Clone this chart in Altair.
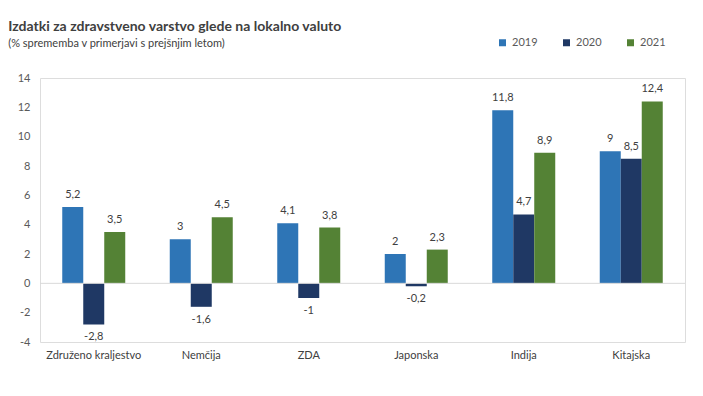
import altair as alt
import pandas as pd

categories = ["Združeno kraljestvo", "Nemčija", "ZDA", "Japonska", "Indija", "Kitajska"]
years = ["2019", "2020", "2021"]
v2019 = [5.2, 3, 4.1, 2, 11.8, 9]
v2020 = [-2.8, -1.6, -1, -0.2, 4.7, 8.5]
v2021 = [3.5, 4.5, 3.8, 2.3, 8.9, 12.4]
colors = ["#2E75B6", "#1F3864", "#548235"]
y_ticks = [-4, -2, 0, 2, 4, 6, 8, 10, 12, 14]

rows = []
for series, yr in zip([v2019, v2020, v2021], years):
    for c, v in zip(categories, series):
        rows.append({"cat": c, "year": yr, "value": v,
                     "label": (f"{v:g}").replace(".", ",")})
df = pd.DataFrame(rows)

FONT = "Lato"
x = alt.X("cat:N", sort=categories, title=None,
          scale=alt.Scale(paddingInner=0.414, paddingOuter=0.207),
          axis=alt.Axis(domain=False, ticks=False, labelAngle=0, labelPadding=7,
                        labelFontSize=11, labelColor="#404040", labelFont=FONT))
xo = alt.XOffset("year:N", sort=years)
y = alt.Y("value:Q", title=None,
          scale=alt.Scale(domain=[-4, 14], nice=False),
          axis=alt.Axis(values=y_ticks, domain=False, ticks=False, grid=False,
                        labelOverlap=False, labelFlush=False,
                        labelExpr="replace(datum.label, '\u2212', '-')",
                        labelPadding=10, labelFontSize=11, labelColor="#595959",
                        labelFont=FONT))

base = alt.Chart(df)
bars = base.mark_bar().encode(
    x=x, xOffset=xo, y=y,
    color=alt.Color("year:N", sort=years,
                    scale=alt.Scale(domain=years, range=colors),
                    legend=alt.Legend(title=None, orient="none", direction="horizontal",
                                      legendX=457, legendY=-41, symbolType="square",
                                      symbolSize=49, symbolStrokeWidth=0,
                                      labelFontSize=11, labelColor="#595959",
                                      labelFont=FONT, columnPadding=23, labelOffset=4,
                                      padding=0)),
)
zero = alt.Chart(pd.DataFrame({"value": [0]})).mark_rule(
    color="#D9D9D9", strokeWidth=1).encode(y=y)

pos = base.transform_filter("datum.value >= 0").mark_text(
    baseline="bottom", dy=-7, fontSize=11, color="#404040", font=FONT
).encode(x=x, xOffset=xo, y=y, text="label:N")
neg = base.transform_filter("datum.value < 0").mark_text(
    baseline="top", dy=7, fontSize=11, color="#404040", font=FONT
).encode(x=x, xOffset=xo, y=y, text="label:N")

chart = alt.layer(bars, zero, pos, neg).properties(
    width=645, height=264,
    autosize=alt.AutoSizeParams(type="none"),
    padding={"left": 32, "top": 70, "right": 10, "bottom": 38},
    title=alt.TitleParams(
        text="Izdatki za zdravstveno varstvo glede na lokalno valuto",
        subtitle="(% sprememba v primerjavi s prejšnjim letom)",
        anchor="start", dx=-9, offset=-12, font=FONT, fontSize=14, fontWeight="bold",
        color="#404040", subtitleFont=FONT, subtitleFontSize=11,
        subtitleColor="#404040", subtitlePadding=4),
).configure_view(stroke=None).configure(background="white")

chart.save("out.html", embed_options={"renderer": "svg", "actions": False})
